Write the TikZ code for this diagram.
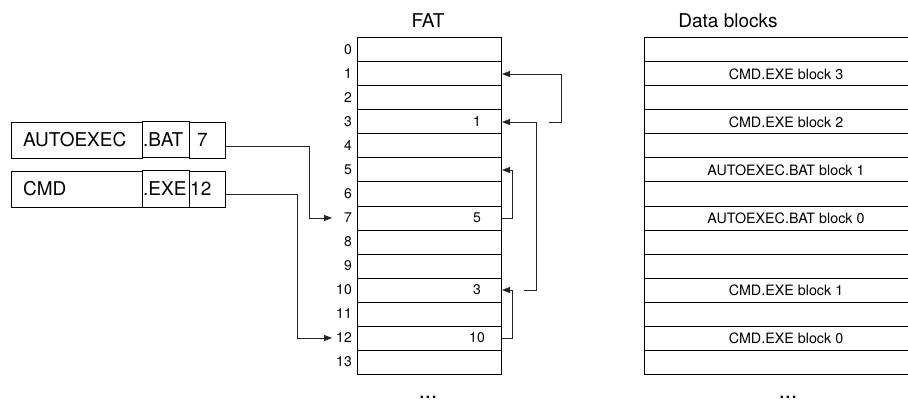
\documentclass[tikz,border=0pt]{standalone}
\usepackage{fontspec}
\setmainfont{TeX Gyre Heros}
\usetikzlibrary{arrows.meta}
\begin{document}
\begin{tikzpicture}[x=1pt,y=-1pt,
  row/.style={draw, line width=1pt, minimum height=24pt, inner sep=0pt, outer sep=0pt},
  fatrow/.style={row, minimum width=144pt},
  datrow/.style={row, minimum width=286pt},
  idx/.style={anchor=east, inner sep=0pt, font=\fontsize{14}{16}\selectfont},
  val/.style={inner sep=0pt, font=\fontsize{14}{16}\selectfont},
  dtext/.style={inner sep=0pt, font=\fontsize{14.3}{16}\selectfont},
  big/.style={inner sep=0pt, font=\fontsize{19}{22}\selectfont},
  lbl/.style={big, anchor=west},
  cell/.style={draw, line width=0.8pt, minimum height=36pt, inner sep=0pt, outer sep=0pt},
  extcell/.style={cell, line width=1pt, minimum width=47pt},
  conn/.style={line width=0.9pt, draw=black!85, -{Triangle[length=8pt,width=6pt]}},
  dotsnode/.style={inner sep=0pt, anchor=base, font=\fontsize{22}{24}\selectfont},
]
\useasboundingbox (0,0) rectangle (908,401);
\clip (0,0) rectangle (908,401);

% titles
\node[big] (fat) at (428,20.5) {FAT};
\node[big] (dat) at (728,20.5) {Data blocks};

% rows
\foreach \i in {0,...,13} {
  \node[fatrow] (f\i) at (429,{50+24*\i}) {};
  \node[idx] (n\i) at (352,{50+24*\i}) {\i};
  \node[datrow] (d\i) at (787,{50+24*\i}) {};
}

% FAT values
\node[val] (v3) at (477,122) {1};
\node[val] (v7) at (477,218) {5};
\node[val] (v10) at (477,290) {3};
\node[val] (v12) at (477,338) {10};

% data block labels
\node[dtext] (l1) at (786,74) {CMD.EXE block 3};
\node[dtext] (l3) at (786,122) {CMD.EXE block 2};
\node[dtext] (l5) at (786,170) {AUTOEXEC.BAT block 1};
\node[dtext] (l7) at (786,218) {AUTOEXEC.BAT block 0};
\node[dtext] (l10) at (786,290) {CMD.EXE block 1};
\node[dtext] (l12) at (786,338) {CMD.EXE block 0};

% directory entries
\node[cell, minimum width=131pt] (aen) at (76.5,140) {};
\node[cell, minimum width=36.7pt] (aec) at (207.35,140) {};
\node[extcell] (aex) at (165.5,140) {};
\node[lbl] (t1) at (23,140) {AUTOEXEC};
\node[lbl] (t2) at (143,140) {.BAT};
\node[lbl] (t3) at (197,140) {7};

\node[cell, minimum width=131pt] (cmn) at (76.5,189) {};
\node[cell, minimum width=36.7pt] (cmc) at (207.35,189) {};
\node[extcell] (cmx) at (165.5,189) {};
\node[lbl] (t4) at (23,189) {CMD};
\node[lbl] (t5) at (143,189) {.EXE};
\node[lbl] (t6) at (190,189) {12};

% connectors from directory to FAT
\draw[conn] ([yshift=-6.7pt]aec.east) -- ++(83.3,0) |- ([xshift=-25pt]f7.west);
\draw[conn] ([yshift=-5.3pt]cmc.east) -- ++(71.3,0) |- ([xshift=-25pt]f12.west);

% FAT chains
\draw[conn] ([xshift=48pt]f3.east) -- ++(12,0) |- ([xshift=1pt]f1.east);
\draw[conn] ([xshift=23pt]f10.east) -- ++(12.7,0) |- ([xshift=1pt]f3.east);
\draw[conn] (f7.east) -- ++(11.5,0) |- ([xshift=1pt]f5.east);
\draw[conn] (f12.east) -- ++(11.5,0) |- ([xshift=1pt]f10.east);

% ellipses
\node[dotsnode] (dots1) at (428,398) {...};
\node[dotsnode] (dots2) at (788,398) {...};
\end{tikzpicture}
\end{document}
